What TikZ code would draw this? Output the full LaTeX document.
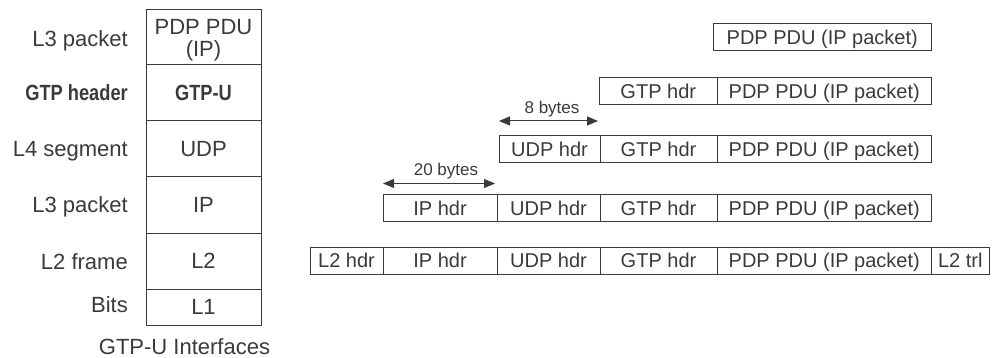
\documentclass[tikz,border=0pt]{standalone}
\usepackage{fontspec}
\setmainfont{Liberation Sans}
\usepackage{graphicx}
\usetikzlibrary{arrows.meta}
\definecolor{ink}{HTML}{3A3A3A}
% condensed bold used for the GTP layer
\newcommand\narrowbold[1]{\scalebox{0.83}[1]{\bfseries #1}}
\begin{document}
\begin{tikzpicture}[x=1pt,y=-1pt,
  cell/.style={draw=ink, line width=1pt, inner sep=0pt, outer sep=0pt,
    anchor=north west, text=ink, minimum height=27pt,
    font=\fontsize{20}{24}\selectfont, text height=14.4pt, text depth=0pt},
  stackcell/.style={draw=ink, line width=1pt, inner sep=0pt, outer sep=0pt,
    anchor=north west, text=ink, minimum width=115pt,
    font=\fontsize{22}{26}\selectfont, text height=15.8pt, text depth=0pt},
  stacktext/.style={inner sep=0pt, text=ink, anchor=base, font=\fontsize{22}{26}\selectfont},
  lbl/.style={inner sep=0pt, text=ink, anchor=base east, font=\fontsize{22}{26}\selectfont},
  dimtext/.style={inner sep=0pt, text=ink, anchor=base, font=\fontsize{17}{20}\selectfont},
  dim/.style={draw=ink, line width=1pt,
    {Triangle[length=11pt,width=9pt]}-{Triangle[length=11pt,width=9pt]}}
]
\useasboundingbox (0,0) rectangle (993,358);

% protocol stack on the left
\node[stackcell, minimum height=55pt] (pdu) at (146,10) {};
\node[stacktext] (pdul1) at (203.5,35) {PDP PDU};
\node[stacktext] (pdul2) at (203.5,57) {(IP)};
\node[stackcell, minimum height=56pt] (gtpu) at (146,65) {\narrowbold{GTP-U}};
\node[stackcell, minimum height=56pt] (udp) at (146,121) {UDP};
\node[stackcell, minimum height=56pt] (ip) at (146,177) {IP};
\node[stackcell, minimum height=56pt] (l2) at (146,233) {L2};
\node[stackcell, minimum height=36pt] (l1) at (146,289) {L1};

\node[lbl] (lab1) at (128,46.7) {L3 packet};
\node[lbl] (lab2) at (128,100.5) {\narrowbold{GTP header}};
\node[lbl] (lab3) at (128,156.7) {L4 segment};
\node[lbl] (lab4) at (128,213) {L3 packet};
\node[lbl] (lab5) at (128,269.5) {L2 frame};
\node[lbl] (lab6) at (128,312.5) {Bits};
\node[stacktext] (caption) at (184.5,354) {GTP-U Interfaces};

% encapsulation rows
\node[cell, minimum width=218.5pt] (pdp1) at (713,24) {PDP PDU (IP packet)};

\node[cell, minimum width=117.5pt] (gtp2) at (599.5,77.5) {GTP hdr};
\node[cell, minimum width=214.5pt] (pdp2) at (717,77.5) {PDP PDU (IP packet)};

\node[cell, minimum width=101pt] (udp3) at (499,136) {UDP hdr};
\node[cell, minimum width=117pt] (gtp3) at (600,136) {GTP hdr};
\node[cell, minimum width=214.5pt] (pdp3) at (717,136) {PDP PDU (IP packet)};

\node[cell, minimum width=114pt] (ip4) at (383,194.5) {IP hdr};
\node[cell, minimum width=103pt] (udp4) at (497,194.5) {UDP hdr};
\node[cell, minimum width=117pt] (gtp4) at (600,194.5) {GTP hdr};
\node[cell, minimum width=214.5pt] (pdp4) at (717,194.5) {PDP PDU (IP packet)};

\node[cell, minimum width=73pt] (l2h5) at (310,247) {L2 hdr};
\node[cell, minimum width=114pt] (ip5) at (383,247) {IP hdr};
\node[cell, minimum width=103pt] (udp5) at (497,247) {UDP hdr};
\node[cell, minimum width=117pt] (gtp5) at (600,247) {GTP hdr};
\node[cell, minimum width=214.5pt] (pdp5) at (717,247) {PDP PDU (IP packet)};
\node[cell, minimum width=57.5pt] (l2t5) at (931.5,247) {L2 trl};

% header size markers
\draw[dim, shorten >=2pt] ([yshift=15pt]udp3.north west) -- ([yshift=15pt]udp3.north east);
\node[dimtext] (udpsize) at (552,113.3) {8 bytes};
\draw[dim, shorten >=2pt] ([yshift=11pt]ip4.north west) -- ([yshift=11pt]ip4.north east);
\node[dimtext] (ipsize) at (446,176) {20 bytes};
\end{tikzpicture}
\end{document}
